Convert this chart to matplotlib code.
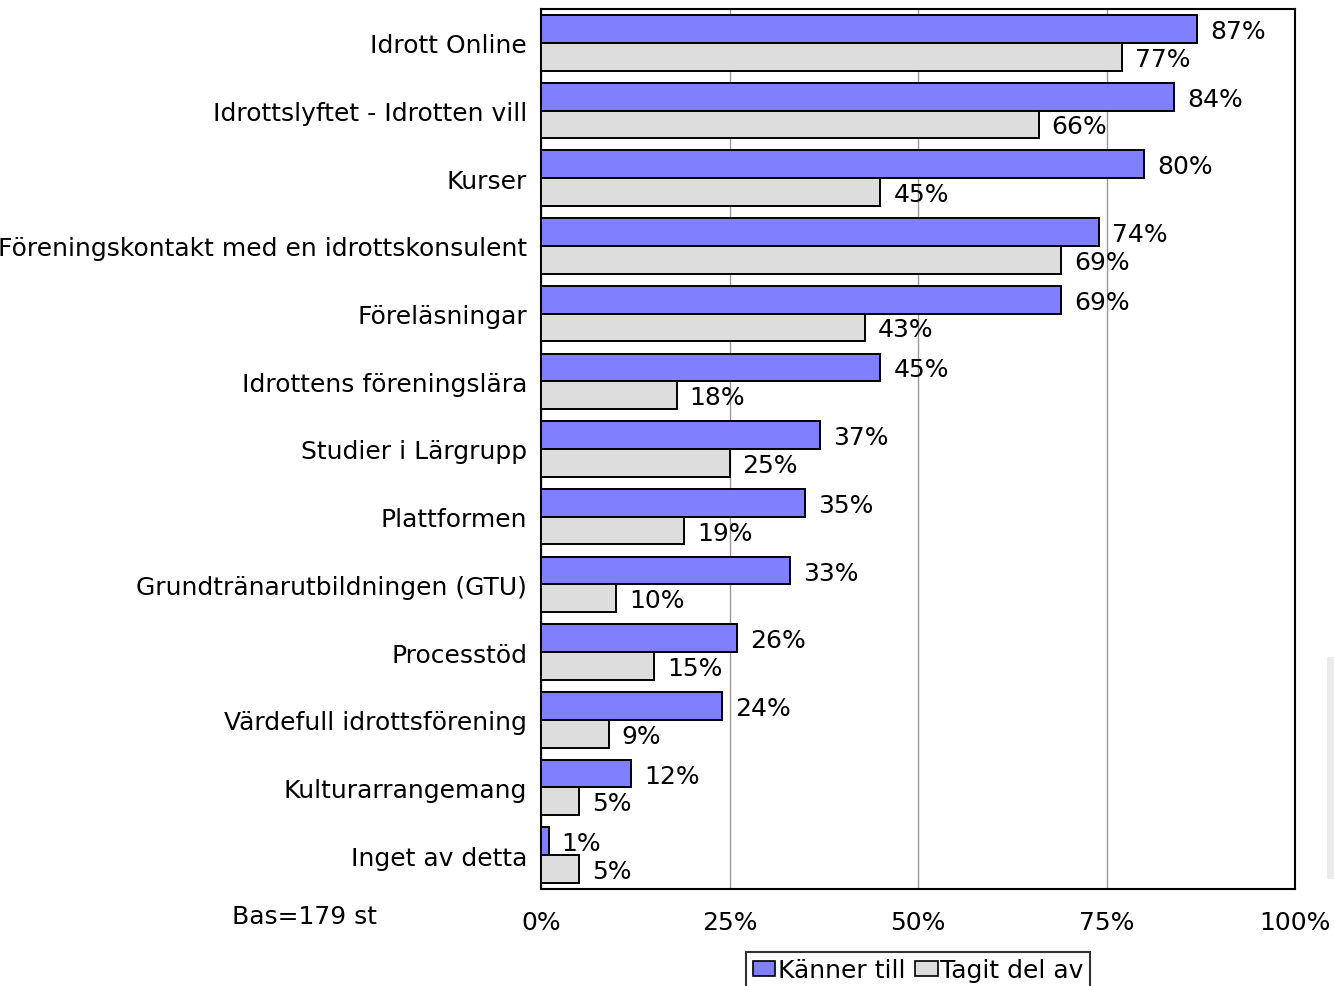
import matplotlib
matplotlib.use("Agg")
import matplotlib.pyplot as plt
from matplotlib.patches import Patch, Rectangle
import numpy as np

categories = ["Idrott Online", "Idrottslyftet - Idrotten vill", "Kurser",
              "Föreningskontakt med en idrottskonsulent", "Föreläsningar",
              "Idrottens föreningslära", "Studier i Lärgrupp", "Plattformen",
              "Grundtränarutbildningen (GTU)", "Processtöd",
              "Värdefull idrottsförening", "Kulturarrangemang", "Inget av detta"]
kanner_till = [87, 84, 80, 74, 69, 45, 37, 35, 33, 26, 24, 12, 1]
tagit_del = [77, 66, 45, 69, 43, 18, 25, 19, 10, 15, 9, 5, 5]
series_names = ["Känner till", "Tagit del av"]
xticks = [0, 25, 50, 75, 100]
xtick_labels = ["0%", "25%", "50%", "75%", "100%"]
base_note = "Bas=179 st"

W, H = 1334, 987
fig = plt.figure(figsize=(W / 100, H / 100), dpi=100)
plt.rcParams['font.family'] = ['DejaVu Sans']
FS = 18

ax = fig.add_axes([541 / W, 1 - 890 / H, (1295 - 541) / W, (890 - 10) / H])
n = len(categories)
y = np.arange(n)
bh = 0.41
purple = "#8080FF"
gray = "#DDDDDD"

b1 = ax.barh(y - bh / 2, kanner_till, height=bh, color=purple, edgecolor="black", linewidth=1.4, zorder=3)
b2 = ax.barh(y + bh / 2, tagit_del, height=bh, color=gray, edgecolor="black", linewidth=1.4, zorder=3)

for bars, vals in ((b1, kanner_till), (b2, tagit_del)):
    for rect, v in zip(bars, vals):
        ax.annotate(f"{v}%", xy=(v, rect.get_y() + rect.get_height() / 2),
                    xytext=(13, -2), textcoords="offset pixels",
                    ha="left", va="center", fontsize=FS, zorder=4)

ax.set_xlim(0, 100)
ax.set_ylim(n - 0.5, -0.5)
ax.set_xticks(xticks)
ax.set_xticklabels(xtick_labels, fontsize=FS)
ax.tick_params(axis="x", length=0, pad=15)
ax.set_yticks(y)
ax.set_yticklabels(categories, fontsize=FS)
ax.tick_params(axis="y", length=0, pad=10)
ax.grid(axis="x", color="#999999", linewidth=1, zorder=0)
ax.set_axisbelow(True)
for s in ax.spines.values():
    s.set_linewidth(1.5)
    s.set_color("black")

fig.text(232 / W, 1 - 917 / H, base_note, fontsize=FS, ha="left", va="center")

handles = [Patch(facecolor=purple, edgecolor="black", linewidth=1.2),
           Patch(facecolor=gray, edgecolor="black", linewidth=1.2)]
leg = fig.legend(handles, series_names, loc="upper center",
                 bbox_to_anchor=(918 / W, 1 - 953 / H), ncol=2, fontsize=FS,
                 frameon=True, fancybox=False, edgecolor="black",
                 handlelength=0.9, handleheight=0.6, handletextpad=0.1,
                 columnspacing=0.4, borderpad=0.25, borderaxespad=0)
leg.get_frame().set_linewidth(1.5)

fig.patches.append(Rectangle((1327 / W, 1 - 880 / H), 7 / W, 222 / H,
                             transform=fig.transFigure, facecolor="#EBEBEB",
                             edgecolor="none"))

fig.savefig("out.png", dpi=100)
